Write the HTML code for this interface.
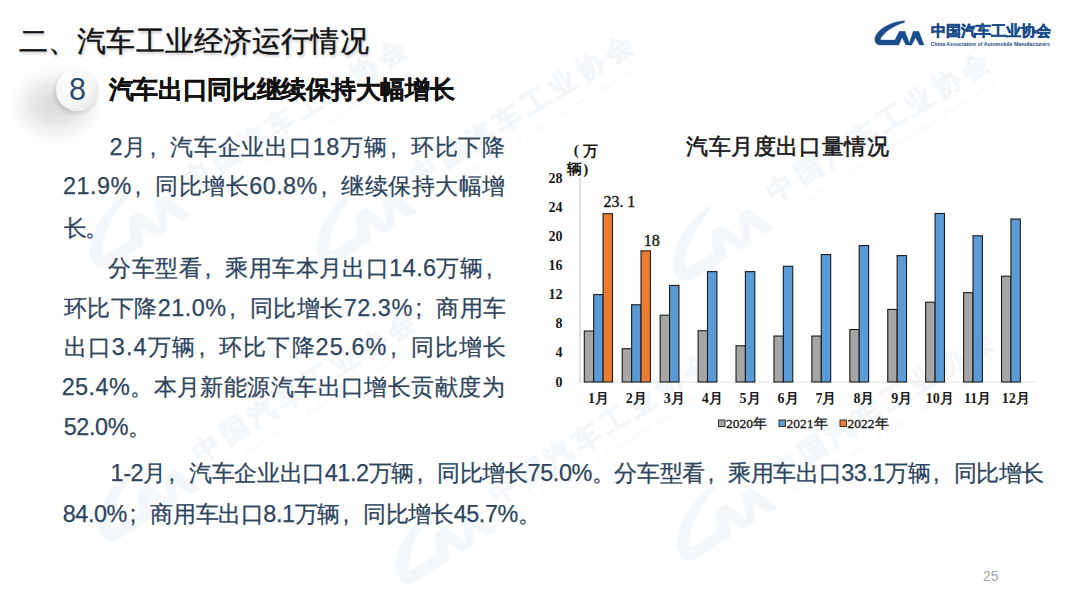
<!DOCTYPE html>
<html><head><meta charset="utf-8">
<style>
*{margin:0;padding:0;box-sizing:border-box}
html,body{width:1080px;height:604px;overflow:hidden;background:#fff}
body{position:relative;font-family:"Liberation Sans",sans-serif}
.abs{position:absolute;white-space:nowrap}
#title{left:19px;top:23px;letter-spacing:.15px;font-size:29px;color:#111;line-height:36px;text-shadow:1px 2px 3px rgba(0,0,0,.25);-webkit-text-stroke:0.4px #111}
#shadow{left:24px;top:82px;width:64px;height:46px;border-radius:50%;background:rgba(0,0,0,.14);filter:blur(12px)}
#badge{left:55.5px;top:68.8px;padding-left:1px;width:43px;height:42px;border-radius:50%;background:radial-gradient(circle at 35% 30%,#fff 0%,#f7f7f7 50%,#e6e6e6 85%,#d0d0d0 100%);box-shadow:-2px 3px 4px rgba(0,0,0,.12);color:#2c4a6c;font-size:30.5px;line-height:40px;text-align:center}
#sub{left:108.5px;top:73px;font-size:25px;font-weight:bold;color:#111;line-height:32px;letter-spacing:-.3px;-webkit-text-stroke:.3px #111}
.ln{position:absolute;white-space:nowrap;color:#2e4560;-webkit-text-stroke:.25px #2e4560;font-size:23.4px;line-height:39.7px;transform-origin:0 0}
.fw{display:inline-block;width:1em;font-weight:normal;padding-left:.12em;text-indent:0}
#pn{left:983px;top:568px;font-size:14px;color:#a6a6a6;line-height:16px}
#chart text{font-family:"Liberation Serif",serif;font-weight:bold;fill:#1a1a1a}
#chart text.dl{font-weight:normal}
.yl{font-size:14px}
.xl{font-size:14px}
.dl{font-size:16px;font-weight:normal;stroke:#1a1a1a;stroke-width:.4px}
.lg{font-size:13.5px;font-weight:normal!important;stroke:#1a1a1a;stroke-width:.35px}
.ct{font-size:22px;font-weight:normal!important;stroke:#1a1a1a;stroke-width:.6px}
.un{font-size:15px}
.unp{font-size:15px}
text.lgcn{font-family:"Liberation Sans",sans-serif;font-size:15px;font-weight:bold;stroke-width:.5px}
text.lgen{font-family:"Liberation Sans",sans-serif;font-size:6px;font-weight:bold;stroke:none}
#cmmark path{stroke-width:.3px}
.wmt{font-family:"Liberation Sans",sans-serif}
</style></head><body>
<svg class="abs" style="left:0;top:0;opacity:.045" width="1080" height="604" viewBox="0 0 1080 604"><g fill="#1d5aa0" stroke="#1d5aa0" stroke-width=".5"><g transform="translate(197,174) rotate(-32) scale(2.19) translate(-938.4,-30.6)"><g transform="translate(1.8,0)"><use href="#cmmark"/></g><text x="932.2" y="35.2" font-size="12.4" font-weight="bold" letter-spacing="2.6" stroke-width=".7" class="wmt">中国汽车工业协会</text><text x="936" y="43.6" font-size="4.1" stroke="none" textLength="111" lengthAdjust="spacingAndGlyphs" class="wmt">China Association of Automobile Manufacturers</text></g><g transform="translate(424,170) rotate(-32) scale(2.19) translate(-938.4,-30.6)"><g transform="translate(1.8,0)"><use href="#cmmark"/></g><text x="932.2" y="35.2" font-size="12.4" font-weight="bold" letter-spacing="2.6" stroke-width=".7" class="wmt">中国汽车工业协会</text><text x="936" y="43.6" font-size="4.1" stroke="none" textLength="111" lengthAdjust="spacingAndGlyphs" class="wmt">China Association of Automobile Manufacturers</text></g><g transform="translate(780,187) rotate(-32) scale(2.19) translate(-938.4,-30.6)"><g transform="translate(1.8,0)"><use href="#cmmark"/></g><text x="932.2" y="35.2" font-size="12.4" font-weight="bold" letter-spacing="2.6" stroke-width=".7" class="wmt">中国汽车工业协会</text><text x="936" y="43.6" font-size="4.1" stroke="none" textLength="111" lengthAdjust="spacingAndGlyphs" class="wmt">China Association of Automobile Manufacturers</text></g><g transform="translate(206,447) rotate(-32) scale(2.19) translate(-938.4,-30.6)"><g transform="translate(1.8,0)"><use href="#cmmark"/></g><text x="932.2" y="35.2" font-size="12.4" font-weight="bold" letter-spacing="2.6" stroke-width=".7" class="wmt">中国汽车工业协会</text><text x="936" y="43.6" font-size="4.1" stroke="none" textLength="111" lengthAdjust="spacingAndGlyphs" class="wmt">China Association of Automobile Manufacturers</text></g><g transform="translate(503,489) rotate(-32) scale(2.19) translate(-938.4,-30.6)"><g transform="translate(1.8,0)"><use href="#cmmark"/></g><text x="932.2" y="35.2" font-size="12.4" font-weight="bold" letter-spacing="2.6" stroke-width=".7" class="wmt">中国汽车工业协会</text><text x="936" y="43.6" font-size="4.1" stroke="none" textLength="111" lengthAdjust="spacingAndGlyphs" class="wmt">China Association of Automobile Manufacturers</text></g><g transform="translate(784,466) rotate(-32) scale(2.19) translate(-938.4,-30.6)"><g transform="translate(1.8,0)"><use href="#cmmark"/></g><text x="932.2" y="35.2" font-size="12.4" font-weight="bold" letter-spacing="2.6" stroke-width=".7" class="wmt">中国汽车工业协会</text><text x="936" y="43.6" font-size="4.1" stroke="none" textLength="111" lengthAdjust="spacingAndGlyphs" class="wmt">China Association of Automobile Manufacturers</text></g></g></svg>
<div id="shadow" class="abs"></div>
<div id="title" class="abs">二、汽车工业经济运行情况</div>
<div id="badge" class="abs">8</div>
<div id="sub" class="abs">汽车出口同比继续保持大幅增长</div>
<div class="ln" id="ln0" style="left:109.40px;top:127.80px;letter-spacing:0.722px">2月<b class="fw">,</b>汽车企业出口18万辆<b class="fw">,</b>环比下降</div><div class="ln" id="ln1" style="left:63.10px;top:167.40px;letter-spacing:0.482px">21.9%<b class="fw">,</b>同比增长60.8%<b class="fw">,</b>继续保持大幅增</div><div class="ln" id="ln2" style="left:63.50px;top:208.70px;letter-spacing:-1.300px">长。</div><div class="ln" id="ln3" style="left:108.40px;top:248.80px;letter-spacing:0.411px">分车型看<b class="fw">,</b>乘用车本月出口14.6万辆<b class="fw">,</b></div><div class="ln" id="ln4" style="left:63.70px;top:289.00px;letter-spacing:0.497px">环比下降21.0%<b class="fw">,</b>同比增长72.3%<b class="fw">;</b>商用车</div><div class="ln" id="ln5" style="left:63.70px;top:328.40px;letter-spacing:1.091px">出口3.4万辆<b class="fw">,</b>环比下降25.6%<b class="fw">,</b>同比增长</div><div class="ln" id="ln6" style="left:61.70px;top:367.50px;letter-spacing:0.425px">25.4%。本月新能源汽车出口增长贡献度为</div><div class="ln" id="ln7" style="left:63.70px;top:407.50px;letter-spacing:-0.360px">52.0%。</div><div class="ln" id="ln8" style="left:110.60px;top:454.00px;letter-spacing:-0.406px">1-2月<b class="fw">,</b>汽车企业出口41.2万辆<b class="fw">,</b>同比增长75.0%。分车型看<b class="fw">,</b>乘用车出口33.1万辆<b class="fw">,</b>同比增长</div><div class="ln" id="ln9" style="left:62.70px;top:494.60px;letter-spacing:-0.405px">84.0%<b class="fw">;</b>商用车出口8.1万辆<b class="fw">,</b>同比增长45.7%。</div>
<svg id="chart" class="abs" style="left:0;top:0" width="1080" height="604" viewBox="0 0 1080 604"><line x1="580" y1="177.7" x2="580" y2="382.0" stroke="#cfcfcf" stroke-width="1.3"/><line x1="580" y1="382.0" x2="1036" y2="382.0" stroke="#e3e3e3" stroke-width="1"/><rect x="584.30" y="331.00" width="9.4" height="51.00" fill="#a6a6a6" stroke="#1b1b1b" stroke-width="1.1"/><rect x="593.70" y="294.57" width="9.4" height="87.43" fill="#5b9bd5" stroke="#1b1b1b" stroke-width="1.1"/><rect x="603.10" y="213.70" width="9.4" height="168.30" fill="#ed7d31" stroke="#1b1b1b" stroke-width="1.1"/><rect x="622.23" y="348.70" width="9.4" height="33.30" fill="#a6a6a6" stroke="#1b1b1b" stroke-width="1.1"/><rect x="631.63" y="304.77" width="9.4" height="77.23" fill="#5b9bd5" stroke="#1b1b1b" stroke-width="1.1"/><rect x="641.03" y="250.86" width="9.4" height="131.14" fill="#ed7d31" stroke="#1b1b1b" stroke-width="1.1"/><rect x="660.16" y="315.19" width="9.4" height="66.81" fill="#a6a6a6" stroke="#1b1b1b" stroke-width="1.1"/><rect x="669.56" y="285.39" width="9.4" height="96.61" fill="#5b9bd5" stroke="#1b1b1b" stroke-width="1.1"/><rect x="698.09" y="330.71" width="9.4" height="51.29" fill="#a6a6a6" stroke="#1b1b1b" stroke-width="1.1"/><rect x="707.49" y="271.62" width="9.4" height="110.38" fill="#5b9bd5" stroke="#1b1b1b" stroke-width="1.1"/><rect x="736.02" y="345.79" width="9.4" height="36.21" fill="#a6a6a6" stroke="#1b1b1b" stroke-width="1.1"/><rect x="745.42" y="271.62" width="9.4" height="110.38" fill="#5b9bd5" stroke="#1b1b1b" stroke-width="1.1"/><rect x="773.95" y="336.03" width="9.4" height="45.97" fill="#a6a6a6" stroke="#1b1b1b" stroke-width="1.1"/><rect x="783.35" y="266.30" width="9.4" height="115.70" fill="#5b9bd5" stroke="#1b1b1b" stroke-width="1.1"/><rect x="811.88" y="336.03" width="9.4" height="45.97" fill="#a6a6a6" stroke="#1b1b1b" stroke-width="1.1"/><rect x="821.28" y="254.57" width="9.4" height="127.43" fill="#5b9bd5" stroke="#1b1b1b" stroke-width="1.1"/><rect x="849.81" y="329.54" width="9.4" height="52.46" fill="#a6a6a6" stroke="#1b1b1b" stroke-width="1.1"/><rect x="859.21" y="245.61" width="9.4" height="136.39" fill="#5b9bd5" stroke="#1b1b1b" stroke-width="1.1"/><rect x="887.74" y="309.43" width="9.4" height="72.57" fill="#a6a6a6" stroke="#1b1b1b" stroke-width="1.1"/><rect x="897.14" y="255.59" width="9.4" height="126.41" fill="#5b9bd5" stroke="#1b1b1b" stroke-width="1.1"/><rect x="925.67" y="302.22" width="9.4" height="79.78" fill="#a6a6a6" stroke="#1b1b1b" stroke-width="1.1"/><rect x="935.07" y="213.48" width="9.4" height="168.52" fill="#5b9bd5" stroke="#1b1b1b" stroke-width="1.1"/><rect x="963.60" y="292.68" width="9.4" height="89.32" fill="#a6a6a6" stroke="#1b1b1b" stroke-width="1.1"/><rect x="973.00" y="235.78" width="9.4" height="146.22" fill="#5b9bd5" stroke="#1b1b1b" stroke-width="1.1"/><rect x="1001.53" y="276.21" width="9.4" height="105.79" fill="#a6a6a6" stroke="#1b1b1b" stroke-width="1.1"/><rect x="1010.93" y="219.02" width="9.4" height="162.98" fill="#5b9bd5" stroke="#1b1b1b" stroke-width="1.1"/><text x="562.5" y="386.50" text-anchor="end" class="yl">0</text><text x="562.5" y="357.36" text-anchor="end" class="yl">4</text><text x="562.5" y="328.21" text-anchor="end" class="yl">8</text><text x="562.5" y="299.07" text-anchor="end" class="yl">12</text><text x="562.5" y="269.93" text-anchor="end" class="yl">16</text><text x="562.5" y="240.79" text-anchor="end" class="yl">20</text><text x="562.5" y="211.64" text-anchor="end" class="yl">24</text><text x="562.5" y="182.50" text-anchor="end" class="yl">28</text><text x="598.40" y="403.5" text-anchor="middle" class="xl" dy="-1">1月</text><text x="636.33" y="403.5" text-anchor="middle" class="xl" dy="-1">2月</text><text x="674.26" y="403.5" text-anchor="middle" class="xl" dy="-1">3月</text><text x="712.19" y="403.5" text-anchor="middle" class="xl" dy="-1">4月</text><text x="750.12" y="403.5" text-anchor="middle" class="xl" dy="-1">5月</text><text x="788.05" y="403.5" text-anchor="middle" class="xl" dy="-1">6月</text><text x="825.98" y="403.5" text-anchor="middle" class="xl" dy="-1">7月</text><text x="863.91" y="403.5" text-anchor="middle" class="xl" dy="-1">8月</text><text x="901.84" y="403.5" text-anchor="middle" class="xl" dy="-1">9月</text><text x="939.77" y="403.5" text-anchor="middle" class="xl" dy="-1">10月</text><text x="977.70" y="403.5" text-anchor="middle" class="xl" dy="-1">11月</text><text x="1015.63" y="403.5" text-anchor="middle" class="xl" dy="-1">12月</text><text x="603.5" y="206.9" class="dl">23.</text><text x="627.2" y="206.9" class="dl">1</text><text x="643.8" y="246.3" class="dl">18</text><rect x="718.5" y="420" width="6.5" height="6.5" fill="#a6a6a6" stroke="#333" stroke-width="1"/><text x="726.0" y="428.2" class="lg">2020年</text><rect x="779" y="420" width="6.5" height="6.5" fill="#5b9bd5" stroke="#333" stroke-width="1"/><text x="786.5" y="428.2" class="lg">2021年</text><rect x="840" y="420" width="6.5" height="6.5" fill="#ed7d31" stroke="#333" stroke-width="1"/><text x="847.5" y="428.2" class="lg">2022年</text><text x="686" y="153.5" class="ct" letter-spacing="0.6">汽车月度出口量情况</text><text x="573.8" y="155" class="unp">(</text><text x="582.5" y="155.5" class="un">万</text><text x="566.6" y="174.2" class="un">辆</text><text x="583.2" y="173.5" class="unp">)</text></svg>
<svg class="abs" style="left:0;top:0" width="1080" height="604" viewBox="0 0 1080 604"><defs><g id="cmlogo"><g id="cmmark">
<path d="M904.8,20.8 C893,21.5 882,27 877,33.5 C873.5,38 874,45 880.5,45.1 L898.8,45.1 L902,37.6 L905.9,45.1 L910.2,45.1 L904.9,31.3 L899.3,31.3 L894.9,40 L881.8,40 C880,40 880,38.5 882,36.5 C887,30 896,25 904.2,22.6 Z"/>
<path d="M909,44 L913.2,31.3 L918.8,31.3 L924.1,45.1 L919.5,45.1 L915.5,37.6 L911.8,45.1 L909.6,45.1 Z"/></g>
<text x="930.5" y="36.3" class="lgcn">中国汽车工业协会</text>
<text x="930.5" y="46.3" class="lgen" textLength="119.5" lengthAdjust="spacingAndGlyphs">China Association of Automobile Manufacturers</text>
</g></defs><g fill="#1a4c8c" stroke="#1a4c8c"><use href="#cmlogo"/></g></svg>
<div id="pn" class="abs">25</div>
</body></html>
